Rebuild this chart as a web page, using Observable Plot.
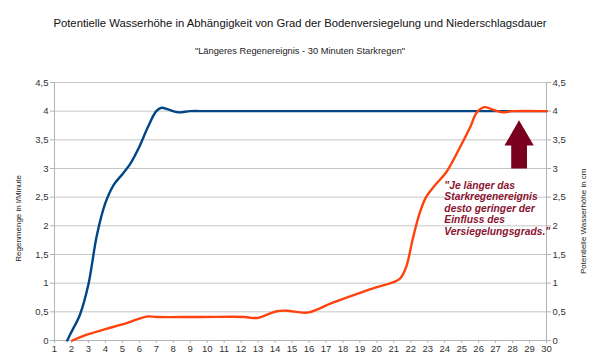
<!DOCTYPE html>
<html><head><meta charset="utf-8">
<script src="https://cdn.jsdelivr.net/npm/d3@7"></script>
<script src="https://cdn.jsdelivr.net/npm/@observablehq/plot@0.6"></script>
<style>
body{margin:0;background:#fff;font-family:"Liberation Sans",Arial,sans-serif}
#wrap{position:relative;width:600px;height:363px;overflow:hidden}
#chart{position:absolute;left:0;top:0}
.t{position:absolute;left:0;width:600px;text-align:center;white-space:nowrap}
#title{top:16px;font-size:11.3px;line-height:14px;color:#111}
#sub{top:45px;font-size:9.3px;line-height:12px;color:#222}
</style>
</head><body>
<div id="wrap">
<div id="chart"></div>
<div class="t" id="title">Potentielle Wasserhöhe in Abhängigkeit von Grad der Bodenversiegelung und Niederschlagsdauer</div>
<div class="t" id="sub">"Längeres Regenereignis - 30 Minuten Starkregen"</div>
</div>
<script>
// Regenmenge in l/Minute (blue)
const rainX = [1.75, 2.0, 2.5, 3.0, 3.5, 4.0, 4.5, 5.0, 5.5, 6.0, 6.5, 7.0, 7.3, 7.7, 8.3, 9.0, 10, 15, 20, 25, 30];
const rainY = [0, 0.15, 0.45, 0.98, 1.84, 2.4, 2.72, 2.9, 3.1, 3.38, 3.72, 4.0, 4.06, 4.03, 3.98, 4.0, 4.0, 4.0, 4.0, 4.0, 4.0];
// Potentielle Wasserhöhe in cm (orange)
const waterX = [2.05, 3, 4, 5, 6, 6.5, 7, 9.6, 12.2, 12.6, 13.0, 14.1, 14.7, 15.5, 16.0, 17.4, 18.8, 20.0, 21.0, 21.4, 21.75, 22.1, 22.5, 22.9, 23.4, 24.1, 24.9, 25.5, 25.9, 26.35, 26.9, 27.4, 28, 30];
const waterY = [0, 0.11, 0.2, 0.28, 0.38, 0.42, 0.41, 0.41, 0.41, 0.395, 0.395, 0.51, 0.52, 0.49, 0.49, 0.66, 0.81, 0.93, 1.02, 1.09, 1.3, 1.75, 2.2, 2.5, 2.7, 2.94, 3.37, 3.72, 3.98, 4.07, 4.02, 3.98, 4.0, 4.0];
const xTicks = d3.range(1, 31);
const yTicks = [0, 0.5, 1, 1.5, 2, 2.5, 3, 3.5, 4, 4.5];
const leftTitle = "Regenmenge in l/Minute";
const rightTitle = "Potentielle Wasserhöhe in cm";
const note = "\"Je länger das\nStarkregenereignis\ndesto geringer der\nEinfluss des\nVersiegelungsgrads.\"";
// block arrow outline (data units)
const arrowX = [27.92, 28.85, 28.85, 29.25, 28.38, 27.52, 27.92, 27.92];
const arrowY = [3.0, 3.0, 3.4, 3.4, 3.84, 3.4, 3.4, 3.0];

const rain = rainX.map((x, i) => ({x, y: rainY[i]}));
const water = waterX.map((x, i) => ({x, y: waterY[i]}));
const arrow = arrowX.map((x, i) => ({x, y: arrowY[i]}));
const fmt = d => String(d).replace(".", ",");

const chart = Plot.plot({
  width: 600, height: 363,
  marginTop: 82, marginBottom: 23, marginLeft: 54, marginRight: 54,
  style: {fontFamily: "Liberation Sans, Arial, sans-serif", background: "#fff"},
  x: {domain: [1, 30]},
  y: {domain: [0, 4.5]},
  marks: [
    Plot.gridY(yTicks, {stroke: "#c6c6c6", strokeOpacity: 1}),
    Plot.ruleX([1, 30], {stroke: "#b3b3b3"}),
    Plot.ruleY([0], {stroke: "#b3b3b3"}),
    Plot.axisY({anchor: "left", ticks: yTicks, tickFormat: fmt, tickSize: 4, tickPadding: 2, stroke: "#b3b3b3", fill: "#333", fontSize: 9.5, label: null}),
    Plot.axisY({anchor: "right", ticks: yTicks, tickFormat: fmt, tickSize: 4, tickPadding: 2, stroke: "#b3b3b3", fill: "#333", fontSize: 9.5, label: null}),
    Plot.axisX({ticks: xTicks, tickFormat: d => String(d), tickSize: 3, tickPadding: 2, stroke: "#b3b3b3", fill: "#333", fontSize: 9.5, label: null}),
    Plot.line(rain, {x: "x", y: "y", stroke: "#004586", strokeWidth: 2.4, curve: "catmull-rom"}),
    Plot.line(water, {x: "x", y: "y", stroke: "#ff420e", strokeWidth: 2.4, curve: "catmull-rom"}),
    Plot.line(arrow, {x: "x", y: "y", fill: "#7a0020", stroke: "none", curve: "linear"}),
    Plot.text([note], {x: 23.98, y: 2.31, text: d => d, textAnchor: "start", lineAnchor: "middle", lineHeight: 1.13, fontSize: 10.3, fontWeight: "bold", fontStyle: "italic", fill: "#8a1430"}),
    Plot.text([leftTitle], {x: -1.12, y: 2.13, text: d => d, rotate: -90, fontSize: 8, fill: "#222"}),
    Plot.text([rightTitle], {x: 32.17, y: 2.08, text: d => d, rotate: -90, fontSize: 8, fill: "#222"})
  ]
});
document.getElementById("chart").appendChild(chart);
</script>
</body></html>
